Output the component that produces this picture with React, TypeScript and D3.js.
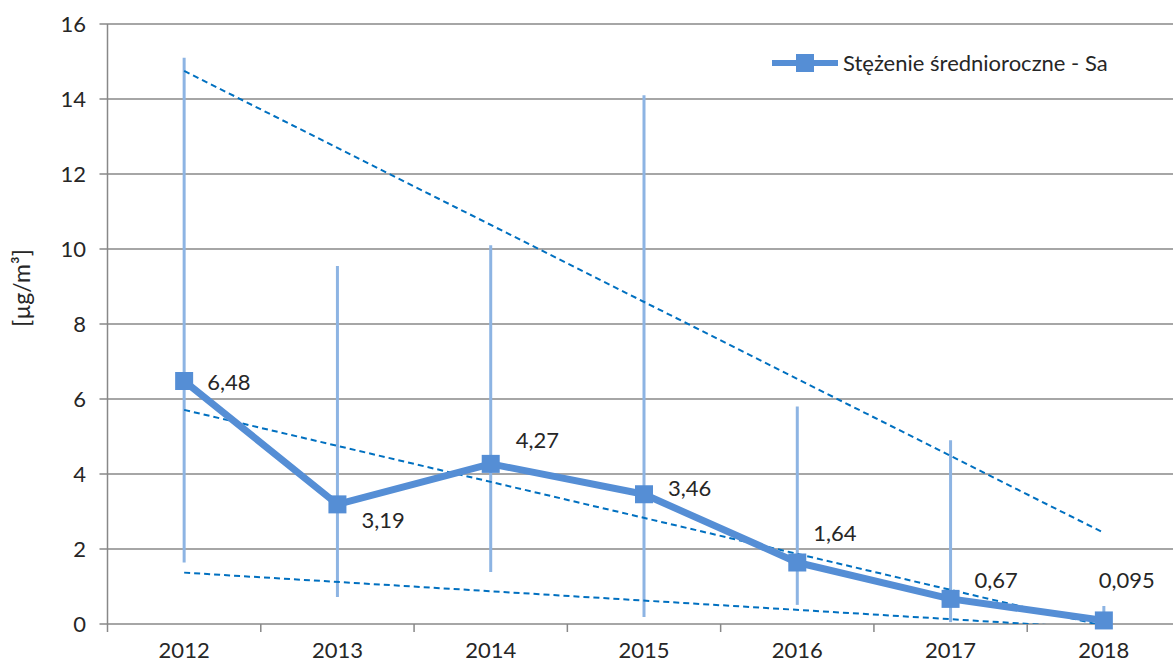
import * as d3 from "d3";
import {useEffect, useRef} from "react";

// data
const years = ["2012", "2013", "2014", "2015", "2016", "2017", "2018"];
const meanValues = [6.48, 3.19, 4.27, 3.46, 1.64, 0.67, 0.095];
const valueLabels = ["6,48", "3,19", "4,27", "3,46", "1,64", "0,67", "0,095"];
const rangeMax = [15.1, 9.55, 10.1, 14.1, 5.8, 4.9, 0.48];
const rangeMin = [1.64, 0.72, 1.39, 0.19, 0.51, 0.05, 0];
const upperTrend = [14.75, 2.43];
const middleTrend = [5.71, -0.05];
const lowerTrend = [1.37, -0.12];
const yTicks = [0, 2, 4, 6, 8, 10, 12, 14, 16];
const seriesName = "Stężenie średnioroczne - Sa";

// label placement relative to the marker
const labelOffsets = [[23, 1], [24, 16], [25, -24], [24, -6], [16, -29], [24, -19], [-5, -40]];

const W = 1173, H = 664;
const font = "Lato, 'Open Sans', sans-serif";
const fs = 22;

const App = () => {
    const ref = useRef<SVGSVGElement>(null);

    useEffect(() => {
        const svg = d3.select(ref.current);
        svg.selectAll("*").remove();

        const left = 107.5, right = 1180.5, top = 24, bottom = 624;

        const x = d3.scaleBand().domain(years).range([left, right]);
        const y = d3.scaleLinear().domain([0, 16]).range([bottom, top]);
        const cx = (d: string) => (x(d) as number) + x.bandwidth() / 2;

        svg.append("defs").append("clipPath").attr("id", "plot")
            .append("rect").attr("x", left).attr("y", top)
            .attr("width", right - left).attr("height", bottom - top);

        // gridlines
        svg.append("g").selectAll("line").data(yTicks).join("line")
            .attr("x1", left - 8).attr("x2", right)
            .attr("y1", d => y(d)).attr("y2", d => y(d))
            .attr("stroke", "#888").attr("stroke-width", 1.5);

        // y axis line
        svg.append("line").attr("x1", left).attr("x2", left)
            .attr("y1", top).attr("y2", bottom + 8)
            .attr("stroke", "#888").attr("stroke-width", 1.5);

        // x ticks at band edges
        const edges = years.map(d => x(d) as number).concat([right]);
        svg.append("g").selectAll("line").data(edges.slice(1)).join("line")
            .attr("x1", d => d).attr("x2", d => d)
            .attr("y1", bottom).attr("y2", bottom + 8)
            .attr("stroke", "#888").attr("stroke-width", 1.5);

        svg.append("g").selectAll("text").data(yTicks).join("text")
            .attr("x", 86).attr("y", d => y(d))
            .attr("dy", "0.35em").attr("text-anchor", "end")
            .attr("font-family", font).attr("font-size", fs).attr("fill", "#262626")
            .text(d => d);

        svg.append("g").selectAll("text").data(years).join("text")
            .attr("x", d => cx(d)).attr("y", 658)
            .attr("text-anchor", "middle")
            .attr("font-family", font).attr("font-size", fs).attr("fill", "#262626")
            .text(d => d);

        svg.append("text")
            .attr("transform", "translate(30,288) rotate(-90)")
            .attr("text-anchor", "middle")
            .attr("font-family", font).attr("font-size", 23).attr("fill", "#262626")
            .text("[µg/m³]");

        // min-max bars
        svg.append("g").selectAll("line").data(years).join("line")
            .attr("x1", d => cx(d)).attr("x2", d => cx(d))
            .attr("y1", (d, i) => y(rangeMax[i])).attr("y2", (d, i) => y(rangeMin[i]))
            .attr("stroke", "#8db4e3").attr("stroke-width", 3);

        // trend lines
        const ends = [years[0], years[years.length - 1]];
        const trendG = svg.append("g").attr("clip-path", "url(#plot)");
        [upperTrend, middleTrend, lowerTrend].forEach(t => {
            trendG.append("path")
                .attr("d", d3.line<number>().x((v, i) => cx(ends[i])).y(v => y(v))(t))
                .attr("fill", "none").attr("stroke", "#0070c0")
                .attr("stroke-width", 2).attr("stroke-dasharray", "6,4");
        });

        // main series
        const line = d3.line<number>().x((v, i) => cx(years[i])).y(v => y(v));
        svg.append("path").attr("d", line(meanValues))
            .attr("fill", "none").attr("stroke", "#558ed5")
            .attr("stroke-width", 7).attr("stroke-linejoin", "round");

        svg.append("g").selectAll("rect").data(meanValues).join("rect")
            .attr("x", (v, i) => cx(years[i]) - 9).attr("y", v => y(v) - 9)
            .attr("width", 18).attr("height", 18).attr("fill", "#558ed5");

        svg.append("g").selectAll("text").data(valueLabels).join("text")
            .attr("x", (d, i) => cx(years[i]) + labelOffsets[i][0])
            .attr("y", (d, i) => y(meanValues[i]) + labelOffsets[i][1])
            .attr("dy", "0.35em")
            .attr("font-family", font).attr("font-size", fs).attr("fill", "#262626")
            .text(d => d);

        // legend
        const lg = svg.append("g").attr("transform", "translate(772,63)");
        lg.append("line").attr("x1", 0).attr("x2", 66)
            .attr("stroke", "#558ed5").attr("stroke-width", 6);
        lg.append("rect").attr("x", 24).attr("y", -9).attr("width", 18).attr("height", 18)
            .attr("fill", "#558ed5");
        lg.append("text").attr("x", 71).attr("dy", "0.35em")
            .attr("font-family", font).attr("font-size", fs).attr("fill", "#262626")
            .text(seriesName);
    }, []);

    return (
        <svg ref={ref} width={W} height={H}
             style={{position: "absolute", left: 0, top: 0, background: "#fff"}}/>
    );
};

export default App;
